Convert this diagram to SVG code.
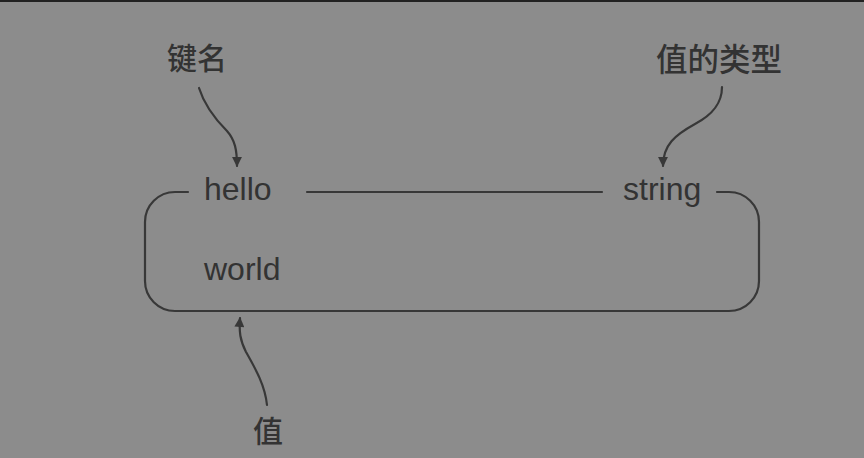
<svg xmlns="http://www.w3.org/2000/svg" width="864" height="458" viewBox="0 0 864 458">
  <defs>
    <style>
      .bg { fill: #8c8c8c; }
      .txt { font-family: "Liberation Sans", Arial, sans-serif; font-size: 32px; fill: #333333; }
      .cjk { font-family: "Noto Sans CJK SC", "Noto Sans", sans-serif; font-size: 30px; font-weight: 500; fill: #333333; }
      .line { fill: none; stroke: #383838; stroke-width: 2.2; stroke-linecap: round; }
    </style>
    <marker id="arr" viewBox="0 0 10 10" refX="9" refY="5" markerWidth="6.5" markerHeight="4.5" orient="auto" markerUnits="strokeWidth">
      <path d="M0,0 L10,5 L0,10 Z" fill="#383838"/>
    </marker>
  </defs>
  <rect class="bg" x="0" y="0" width="864" height="458"/>
  <rect x="0" y="0" width="864" height="2" fill="#222"/>

  <g id="connectors">
    <path id="frame" class="line" d="M188,192 L175,192 A30,30 0 0 0 145,222 L145,281 A30,30 0 0 0 175,311 L729,311 A30,30 0 0 0 759,281 L759,222 A30,30 0 0 0 729,192 L717,192"/>
    <path id="key-type-line" class="line" d="M307,192 L602,192"/>
    <path id="arrow-key" class="line" marker-end="url(#arr)" d="M199,88 C204,104 214,118 227,131 C235,140 237,150 237,166"/>
    <path id="arrow-type" class="line" marker-end="url(#arr)" d="M722,87 C722,104 712,115 695,124 C675,135 663,145 663,166"/>
    <path id="arrow-value" class="line" marker-end="url(#arr)" d="M267,405 C265,385 255,368 246,352 C240,340 239,332 240,318"/>
  </g>

  <g id="node-key">
    <text class="txt" x="204" y="200">hello</text>
  </g>
  <g id="node-value">
    <text class="txt" x="204" y="280">world</text>
  </g>
  <g id="node-type">
    <text class="txt" x="623" y="200">string</text>
  </g>
  <g id="label-key">
    <text class="cjk" x="167" y="69">键名</text>
  </g>
  <g id="label-type">
    <text class="cjk" x="656" y="71" style="font-size:31.5px">值的类型</text>
  </g>
  <g id="label-value">
    <text class="cjk" x="253" y="442">值</text>
  </g>
</svg>
